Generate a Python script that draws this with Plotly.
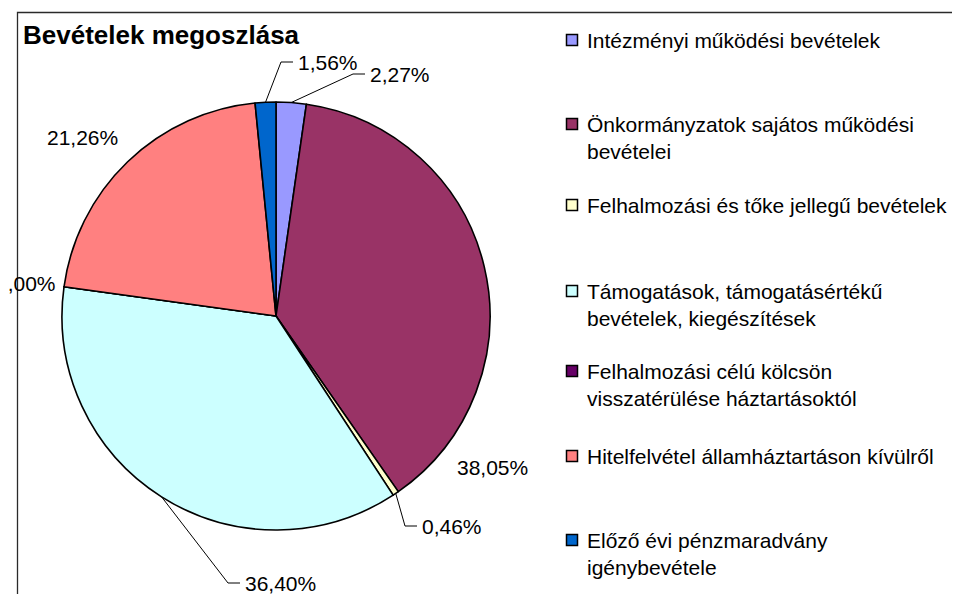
import plotly.graph_objects as go
import math

# ---------------- data ----------------
categories = [
    "Intézményi működési bevételek",
    "Önkormányzatok sajátos működési bevételei",
    "Felhalmozási és tőke jellegű bevételek",
    "Támogatások, támogatásértékű bevételek, kiegészítések",
    "Felhalmozási célú kölcsön visszatérülése háztartásoktól",
    "Hitelfelvétel államháztartáson kívülről",
    "Előző évi pénzmaradvány igénybevétele",
]
shares = [2.27, 38.05, 0.46, 36.40, 0.00, 21.26, 1.56]
title_text = "Bevételek megoszlása"

# ---------------- styling / layout ----------------
colors = ["#9999FF", "#993366", "#FFFFCC", "#CCFFFF", "#660066", "#FF8080", "#0066CC"]
legend_break_after = ["", "működési", "", "támogatásértékű", "kölcsön", "", "pénzmaradvány"]
PAGE_W, PAGE_H = 960, 594
OFF = 8                      # default page body margin
W, H = PAGE_W - OFF, PAGE_H - OFF
FONT = "Arial, 'Liberation Sans', sans-serif"
PAD = 2                      # annotation box padding

# pie geometry (page pixels)
CX, CY, R = 276, 316, 214

# data-label placement: (x_left or x_right, y_center, anchor, leader)
label_place = [
    (370, 74, "left", True),
    (457, 467, "left", False),
    (422, 526, "left", True),
    (245, 583, "left", True),
    (56, 283, "right", False),
    (47, 137, "left", False),
    (298, 62, "left", True),
]
legend_first_y = [40, 124, 205, 291, 371, 456, 540]
LEG_SQ_X, LEG_TXT_X, LINE_H = 572, 587, 27.3


def px(x):
    return (x - OFF) / W


def py(y):
    return 1 - (y - OFF) / H


fig = go.Figure()
fig.add_trace(go.Pie(
    labels=categories,
    values=shares,
    sort=False,
    direction="clockwise",
    rotation=0,
    marker=dict(colors=colors, line=dict(color="black", width=1.6)),
    textinfo="none",
    hoverinfo="label+percent",
    showlegend=False,
    domain=dict(x=[px(CX - R), px(CX + R)], y=[py(CY + R), py(CY - R)]),
))

annotations = []
shapes = []

# chart-area frame (left and top edges visible; the others fall outside the page)
shapes.append(dict(type="rect", xref="paper", yref="paper", layer="below",
                   x0=px(17.5), y0=py(PAGE_H + 20), x1=px(PAGE_W + 20), y1=py(12.5),
                   fillcolor="rgba(0,0,0,0)",
                   line=dict(color="#2a2a2a", width=1.3)))

# title
annotations.append(dict(text="<b>" + title_text + "</b>", x=px(22 - 1), y=py(35),
                        xref="paper", yref="paper", xanchor="left", yanchor="middle",
                        showarrow=False, font=dict(family=FONT, size=26, color="black")))

# data labels with leader lines
total = sum(shares)
cum = 0.0
for i, v in enumerate(shares):
    mid = (cum + v / 2) / total
    cum += v
    ang = 2 * math.pi * mid
    ex, ey = CX + R * math.sin(ang), CY - R * math.cos(ang)
    lx, ly, anchor, leader = label_place[i]
    ax_ = lx - PAD if anchor == "left" else lx + PAD
    txt = f"{v:.2f}%".replace(".", ",")
    annotations.append(dict(text=txt, x=px(ax_), y=py(ly), xref="paper", yref="paper",
                            xanchor=anchor, yanchor="middle", showarrow=False,
                            font=dict(family=FONT, size=21, color="black")))
    if leader:
        shapes.append(dict(type="path", xref="paper", yref="paper",
                           path=(f"M {px(ex)} {py(ey)} L {px(lx - 17)} {py(ly)} "
                                 f"L {px(lx - 5)} {py(ly)}"),
                           line=dict(color="black", width=1)))

# custom legend
for i, name in enumerate(categories):
    brk = legend_break_after[i]
    if brk:
        k = name.index(brk) + len(brk)
        text = name[:k] + "<br>" + name[k + 1:]
        n = 2
    else:
        text = name
        n = 1
    y0 = legend_first_y[i]
    yc = y0 + (n - 1) * LINE_H / 2
    annotations.append(dict(text=text, x=px(LEG_TXT_X - PAD), y=py(yc), xref="paper", yref="paper",
                            xanchor="left", yanchor="middle", align="left", showarrow=False,
                            font=dict(family=FONT, size=21, color="black")))
    shapes.append(dict(type="rect", xref="paper", yref="paper",
                       x0=px(LEG_SQ_X - 5.5), x1=px(LEG_SQ_X + 5.5),
                       y0=py(y0 + 5.5), y1=py(y0 - 5.5),
                       fillcolor=colors[i], line=dict(color="black", width=1.5)))

fig.update_layout(
    width=W, height=H,
    margin=dict(l=0, r=0, t=0, b=0),
    paper_bgcolor="white", plot_bgcolor="white",
    annotations=annotations, shapes=shapes,
    font=dict(family=FONT),
)

fig.write_html("out.html")
